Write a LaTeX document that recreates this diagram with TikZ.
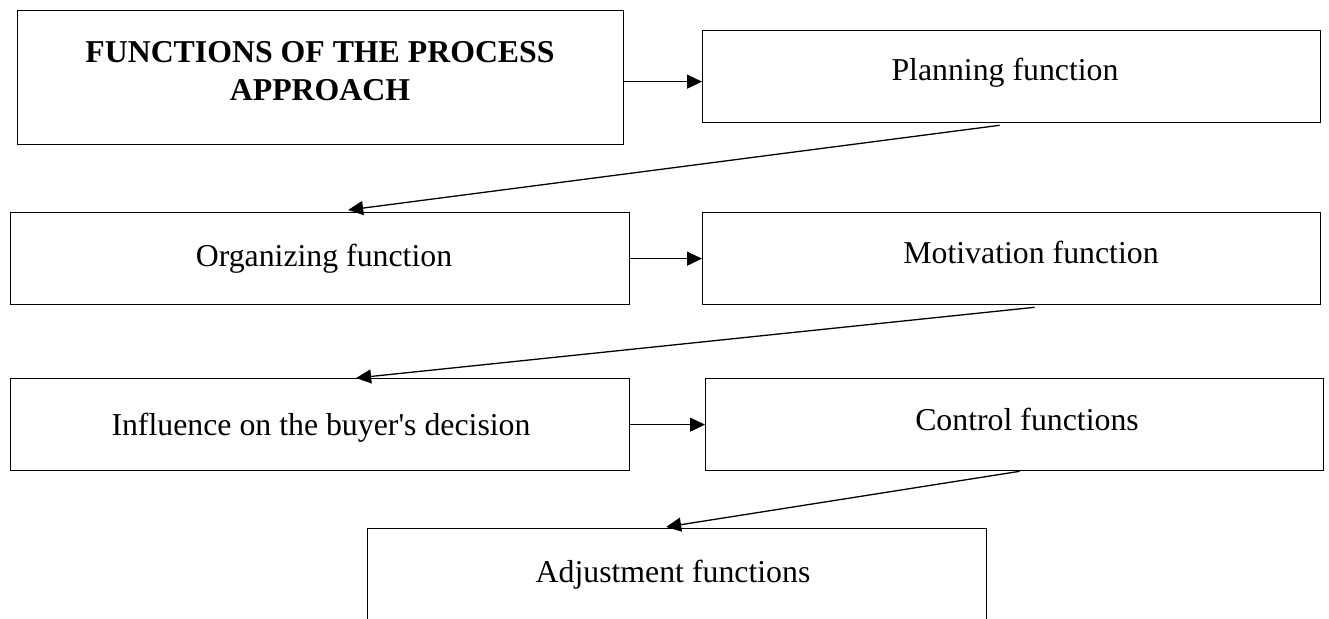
\documentclass[tikz,border=0pt]{standalone}
\usepackage{fontspec}
\setmainfont{Liberation Serif}
\usetikzlibrary{arrows.meta}
\begin{document}
\begin{tikzpicture}[x=1pt,y=-1pt,
  box/.style={draw=black, line width=1.3pt, rectangle, inner sep=0pt, anchor=north west},
  lbl/.style={anchor=base, inner sep=0pt, font=\fontsize{31.8}{38}\selectfont},
  arr/.style={line width=1.3pt, -{Triangle[length=15pt,width=14pt]}}]
  \useasboundingbox (0,0) rectangle (1329,618);
  \clip (0,0) rectangle (1329,618);

  % boxes
  \node[box, minimum width=606pt, minimum height=134pt] (A) at (17,10) {};
  \node[box, minimum width=618pt, minimum height=92pt]  (P) at (702,30) {};
  \node[box, minimum width=619pt, minimum height=92pt]  (O) at (10,212) {};
  \node[box, minimum width=618pt, minimum height=92pt]  (M) at (702,212) {};
  \node[box, minimum width=619pt, minimum height=92pt]  (I) at (10,378) {};
  \node[box, minimum width=618pt, minimum height=92pt]  (C) at (705,378) {};
  \node[box, minimum width=619pt, minimum height=140pt] (J) at (367,528) {};

  % labels
  \node[lbl, anchor=north, align=center, font=\fontsize{31.8}{38}\selectfont\bfseries] (tA) at (320,41)
    {FUNCTIONS OF THE PROCESS\\APPROACH};
  \node[lbl] (tP) at (1005,81)  {Planning function};
  \node[lbl] (tO) at (324,266)  {Organizing function};
  \node[lbl] (tM) at (1031,263) {Motivation function};
  \node[lbl] (tI) at (321,435)  {Influence on the buyer\textquotesingle s decision};
  \node[lbl] (tC) at (1027,430) {Control functions};
  \node[lbl] (tJ) at (673,582)  {Adjustment functions};

  % connectors
  \draw[arr] ([yshift=-4pt]A.east) -- ([yshift=-4pt]A.east -| P.west);
  \draw[arr] (O.east) -- (M.west);
  \draw[arr] (I.east) -- (C.west);
  \draw[arr] ([xshift=-12pt,yshift=-2pt]P.south) -- ([xshift=28pt,yshift=2pt]O.north);
  \draw[arr] ([xshift=23pt,yshift=-2pt]M.south) -- ([xshift=36pt]I.north);
  \draw[arr] ([xshift=5pt]C.south) -- ([xshift=-11pt,yshift=1pt]J.north);
\end{tikzpicture}
\end{document}
